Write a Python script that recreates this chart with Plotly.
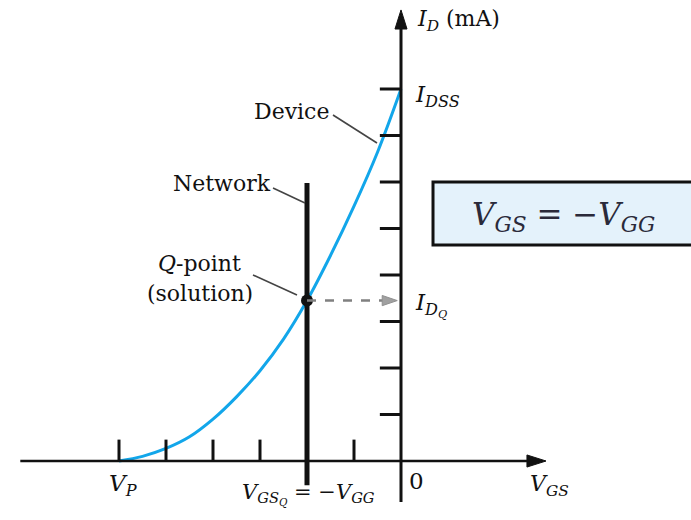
import plotly.graph_objects as go

# JFET transfer characteristic (device curve): V_GS in tick units, I_D in mA tick units
vgs = [-6.0, -5.5, -5.0, -4.5, -4.0, -3.5, -3.0, -2.5, -2.0, -1.5, -1.0, -0.5, 0.0]
id_ma = [0.0, 0.10, 0.27, 0.52, 0.90, 1.38, 1.94, 2.62, 3.45, 4.42, 5.48, 6.64, 8.0]

# axis ticks
v_ticks = [-6, -5, -4, -3, -2, -1]
i_ticks = [1, 2, 3, 4, 5, 6, 7, 8]

# operating point (fixed-bias network line V_GS = -V_GG)
vgs_q = -2.0
id_q = 3.45
network_span = [-0.52, 5.98]

# axis extents
x_start, x_end, x_tip = -8.1, 2.68, 3.085
y_start, y_end, y_tip = -0.88, 9.29, 9.70

FONT = "DejaVu Serif"
INK = "#111111"
BLUE = "#12a6ea"

fig = go.Figure()

# device curve
fig.add_trace(go.Scatter(x=vgs, y=id_ma, mode="lines",
                         line=dict(color=BLUE, width=3, shape="spline", smoothing=1.0),
                         hoverinfo="skip"))

shapes = []
# axes
shapes.append(dict(type="line", x0=x_start, x1=x_end, y0=0, y1=0,
                   line=dict(color=INK, width=2.5)))
shapes.append(dict(type="line", x0=0, x1=0, y0=y_start, y1=y_end,
                   line=dict(color=INK, width=3)))
shapes.append(dict(type="path",
                   path=f"M {x_end},0.13 L {x_tip},0 L {x_end},-0.13 Z",
                   fillcolor=INK, line=dict(color=INK, width=1)))
shapes.append(dict(type="path",
                   path=f"M -0.128,{y_end} L 0,{y_tip} L 0.128,{y_end} Z",
                   fillcolor=INK, line=dict(color=INK, width=1)))

# tick marks (above the V axis, left of the I axis)
for v in v_ticks:
    shapes.append(dict(type="line", x0=v, x1=v, y0=0, y1=0.46,
                       line=dict(color=INK, width=3)))
for i in i_ticks:
    shapes.append(dict(type="line", x0=-0.45, x1=0, y0=i, y1=i,
                       line=dict(color=INK, width=3)))

# network line
shapes.append(dict(type="line", x0=vgs_q, x1=vgs_q,
                   y0=network_span[0], y1=network_span[1],
                   line=dict(color=INK, width=5)))

# dashed projection of the Q-point onto the I_D axis
shapes.append(dict(type="line", x0=vgs_q, x1=-0.38, y0=id_q, y1=id_q,
                   line=dict(color="#808080", width=2.5, dash="dash")))
shapes.append(dict(type="path",
                   path=f"M -0.40,{id_q + 0.11} L -0.08,{id_q} L -0.40,{id_q - 0.11} Z",
                   fillcolor="#a0a0a0", line=dict(color="#909090", width=1)))

# leader lines for the labels
leaders = [(-1.447, 7.441, -0.511, 6.839),
           (-2.723, 5.871, -2.043, 5.548),
           (-3.149, 4.00, -2.213, 3.570)]
for x0, y0, x1, y1 in leaders:
    shapes.append(dict(type="line", x0=x0, y0=y0, x1=x1, y1=y1,
                       line=dict(color="#444444", width=1.6)))

# equation box
shapes.append(dict(type="rect", x0=0.681, x1=6.4, y0=4.645, y1=6.0,
                   fillcolor="#e4f2fb", line=dict(color=INK, width=3)))

# Q-point
fig.add_trace(go.Scatter(x=[vgs_q], y=[id_q], mode="markers",
                         marker=dict(color=INK, size=12), hoverinfo="skip"))


def label(text, x, y, size=22, xanchor="center", yanchor="middle", color=INK):
    return dict(text=text, x=x, y=y, xref="x", yref="y", showarrow=False,
                xanchor=xanchor, yanchor=yanchor,
                font=dict(family=FONT, size=size, color=color))


annotations = [
    label("<i>I</i><sub><i>D</i></sub> (mA)", 0.30, 9.47, size=22, xanchor="left"),
    label("<i>I</i><sub><i>DSS</i></sub>", 0.26, 7.85, size=23, xanchor="left"),
    label("<i>I</i><sub><i>D<sub>Q</sub></i></sub>", 0.26, 3.35, size=23, xanchor="left"),
    label("<i>V</i><sub><i>P</i></sub>", -6.25, -0.52, size=23, xanchor="left"),
    label("<i>V</i><sub><i>GS<sub>Q</sub></i></sub> = \u2212<i>V</i><sub><i>GG</i></sub>",
          -3.43, -0.73, size=21, xanchor="left"),
    label("0", 0.34, -0.43, size=23),
    label("<i>V</i><sub><i>GS</i></sub>", 2.70, -0.52, size=22, xanchor="left"),
    label("Device", -2.32, 7.51),
    label("Network", -3.81, 5.96),
    label("<i>Q</i>-point", -4.28, 4.24),
    label("(solution)", -4.28, 3.61),
    label("<i>V</i><sub><i>GS</i></sub> = \u2212<i>V</i><sub><i>GG</i></sub>",
          3.45, 5.25, size=31, color="#2a2a3a"),
]

fig.update_layout(
    width=691, height=520,
    margin=dict(l=0, r=0, t=0, b=0),
    paper_bgcolor="white", plot_bgcolor="white",
    font=dict(family=FONT, color=INK),
    showlegend=False,
    xaxis=dict(range=[-401 / 47, 290 / 47], visible=False, fixedrange=True),
    yaxis=dict(range=[-59 / 46.5, 461 / 46.5], visible=False, fixedrange=True),
    shapes=shapes,
    annotations=annotations,
)

fig.write_html("out.html")
